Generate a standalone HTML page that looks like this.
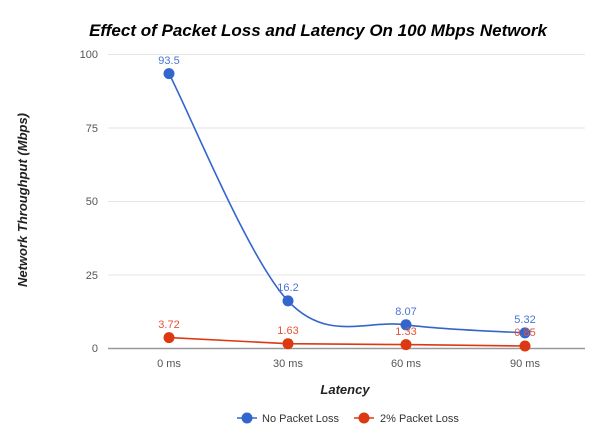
<!DOCTYPE html>
<html><head><meta charset="utf-8"><style>
html,body{margin:0;padding:0;background:#fff;}
svg{display:block;font-family:"Liberation Sans",Arial,sans-serif;}
</style></head><body>
<svg width="600" height="434" viewBox="0 0 600 434" xmlns="http://www.w3.org/2000/svg">
<rect width="600" height="434" fill="#fff"/>
<text x="318" y="36" text-anchor="middle" font-size="17" font-weight="bold" font-style="italic" fill="#000">Effect of Packet Loss and Latency On 100 Mbps Network</text>
<g stroke="#e6e6e6" stroke-width="1">
<line x1="108" y1="54.5" x2="585" y2="54.5"/>
<line x1="108" y1="128" x2="585" y2="128"/>
<line x1="108" y1="201.5" x2="585" y2="201.5"/>
<line x1="108" y1="275" x2="585" y2="275"/>
</g>
<line x1="108" y1="348.5" x2="585" y2="348.5" stroke="#999" stroke-width="1.5"/>
<g font-size="11" fill="#555" text-anchor="end">
<text x="98" y="58">100</text>
<text x="98" y="132">75</text>
<text x="98" y="205">50</text>
<text x="98" y="279">25</text>
<text x="98" y="352">0</text>
</g>
<g font-size="11" fill="#555" text-anchor="middle">
<text x="169" y="367">0 ms</text>
<text x="288" y="367">30 ms</text>
<text x="406" y="367">60 ms</text>
<text x="525" y="367">90 ms</text>
</g>
<text x="345" y="394" text-anchor="middle" font-size="13" font-weight="bold" font-style="italic" fill="#222">Latency</text>
<text transform="translate(27,200) rotate(-90)" text-anchor="middle" font-size="13" font-weight="bold" font-style="italic" fill="#222">Network Throughput (Mbps)</text>
<path d="M169,73.6 C189,111.5 248.5,259 288,300.9 C327.5,342.8 366.5,319.5 406,324.8 C445.5,330.1 505,331.5 525,332.9" fill="none" stroke="#3366cc" stroke-width="1.6"/>
<polyline points="169,337.6 288,343.7 406,344.6 525,346" fill="none" stroke="#dc3912" stroke-width="1.6"/>
<g fill="#3366cc">
<circle cx="169" cy="73.6" r="5.5"/><circle cx="288" cy="300.9" r="5.5"/><circle cx="406" cy="324.8" r="5.5"/><circle cx="525" cy="332.9" r="5.5"/>
</g>
<g fill="#dc3912">
<circle cx="169" cy="337.6" r="5.5"/><circle cx="288" cy="343.7" r="5.5"/><circle cx="406" cy="344.6" r="5.5"/><circle cx="525" cy="346" r="5.5"/>
</g>
<g font-size="11" fill="#4a74d6" text-anchor="middle">
<text x="169" y="64">93.5</text>
<text x="288" y="291">16.2</text>
<text x="406" y="315">8.07</text>
<text x="525" y="323">5.32</text>
</g>
<g font-size="11" fill="#e4553a" text-anchor="middle">
<text x="169" y="328">3.72</text>
<text x="288" y="334">1.63</text>
<text x="406" y="335">1.33</text>
<text x="525" y="336">0.85</text>
</g>
<line x1="237" y1="418" x2="257" y2="418" stroke="#3366cc" stroke-width="1.6"/>
<circle cx="247" cy="418" r="5.5" fill="#3366cc"/>
<text x="262" y="422" font-size="11" fill="#333">No Packet Loss</text>
<line x1="354" y1="418" x2="374" y2="418" stroke="#dc3912" stroke-width="1.6"/>
<circle cx="364" cy="418" r="5.5" fill="#dc3912"/>
<text x="380" y="422" font-size="11" fill="#333">2% Packet Loss</text>
</svg>
</body></html>
